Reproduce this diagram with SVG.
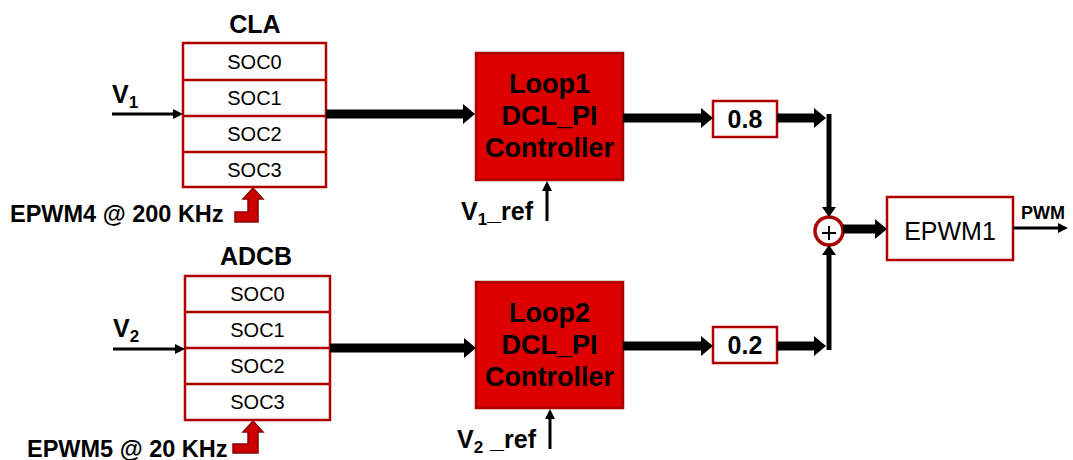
<svg xmlns="http://www.w3.org/2000/svg" width="1073" height="460" viewBox="0 0 1073 460">
<style>
text{font-family:"Liberation Sans",Arial,sans-serif;fill:#000}
.title{font-size:25px;font-weight:bold;text-anchor:middle}
.soc{font-size:20px;text-anchor:middle}
.lbl{font-size:25px;font-weight:bold}
.trg{font-size:23.5px;font-weight:bold}
.sub{font-size:17px}
.ctl{font-size:27px;font-weight:bold;text-anchor:middle}
.gain{font-size:25px;font-weight:bold;text-anchor:middle}
.box{fill:#fff;stroke:#b00000;stroke-width:2.5}
.red{fill:#dd0000;stroke:#a80000;stroke-width:2.5}
.thick{stroke:#000;stroke-width:9;fill:none}
.vert{stroke:#000;stroke-width:5;fill:none}
.thin{stroke:#000;stroke-width:3;fill:none}
.trig{fill:#cc0000;stroke:#8a0000;stroke-width:1.5}
</style>
<defs>
<marker id="hBig" markerUnits="userSpaceOnUse" markerWidth="12" markerHeight="20" refX="0" refY="10" orient="auto" overflow="visible"><path d="M0,0 L12,10 L0,20 z" fill="#000"/></marker>
<marker id="hMid" markerUnits="userSpaceOnUse" markerWidth="10" markerHeight="14" refX="0" refY="7" orient="auto" overflow="visible"><path d="M0,0 L10,7 L0,14 z" fill="#000"/></marker>
<marker id="hSmall" markerUnits="userSpaceOnUse" markerWidth="10" markerHeight="10" refX="0" refY="5" orient="auto" overflow="visible"><path d="M0,0 L10,5 L0,10 z" fill="#000"/></marker>
</defs>

<g id="cla">
<text class="title" x="255" y="33">CLA</text>
<rect class="box" x="183" y="43" width="143" height="144"/>
<line class="box" x1="183" y1="80" x2="326" y2="80"/>
<line class="box" x1="183" y1="116" x2="326" y2="116"/>
<line class="box" x1="183" y1="152" x2="326" y2="152"/>
<text class="soc" x="254.5" y="69">SOC0</text>
<text class="soc" x="254.5" y="105">SOC1</text>
<text class="soc" x="254.5" y="141">SOC2</text>
<text class="soc" x="254.5" y="177">SOC3</text>
</g>

<g id="adcb">
<text class="title" x="256" y="265">ADCB</text>
<rect class="box" x="185" y="276" width="145" height="144"/>
<line class="box" x1="185" y1="312" x2="330" y2="312"/>
<line class="box" x1="185" y1="348" x2="330" y2="348"/>
<line class="box" x1="185" y1="384" x2="330" y2="384"/>
<text class="soc" x="257.5" y="301">SOC0</text>
<text class="soc" x="257.5" y="337">SOC1</text>
<text class="soc" x="257.5" y="373">SOC2</text>
<text class="soc" x="257.5" y="409">SOC3</text>
</g>

<g id="v1"><text class="lbl" x="112" y="103">V<tspan class="sub" dy="5">1</tspan></text></g>
<g id="v2"><text class="lbl" x="113" y="337">V<tspan class="sub" dy="5">2</tspan></text></g>

<g id="epwm4">
<text class="trg" x="10" y="222">EPWM4 @ 200 KHz</text>
<polygon class="trig" points="235,212 248,212 248,199 243,199 253,188 263,199 258,199 258,222 235,222"/>
</g>
<g id="epwm5">
<text class="trg" x="27" y="457">EPWM5 @ 20 KHz</text>
<polygon class="trig" points="233,444 248,444 248,432 243,432 253,421 263,432 258,432 258,453 233,453"/>
</g>

<g id="loop1">
<rect class="red" x="476" y="53" width="147" height="127"/>
<text class="ctl" x="549.5" y="93">Loop1</text>
<text class="ctl" x="549.5" y="125">DCL_PI</text>
<text class="ctl" x="549.5" y="157">Controller</text>
</g>
<g id="loop2">
<rect class="red" x="476" y="282" width="147" height="126"/>
<text class="ctl" x="549.5" y="322">Loop2</text>
<text class="ctl" x="549.5" y="354">DCL_PI</text>
<text class="ctl" x="549.5" y="386">Controller</text>
</g>

<g id="v1ref"><text class="lbl" x="461" y="220">V<tspan class="sub" dy="5">1</tspan><tspan dy="-5">_ref</tspan></text></g>
<g id="v2ref"><text class="lbl" x="457" y="448">V<tspan class="sub" dy="5">2</tspan><tspan dy="-5"> _ref</tspan></text></g>

<g id="gain08">
<rect class="box" x="713" y="101" width="64" height="36"/>
<text class="gain" x="745" y="128">0.8</text>
</g>
<g id="gain02">
<rect class="box" x="713" y="327" width="64" height="36"/>
<text class="gain" x="745" y="354">0.2</text>
</g>

<g id="sum">
<circle cx="829" cy="231" r="14" fill="#fff" stroke="#aa0000" stroke-width="3.5"/>
<line x1="822" y1="233" x2="836" y2="233" stroke="#000" stroke-width="2"/>
<line x1="829" y1="226" x2="829" y2="240" stroke="#000" stroke-width="2"/>
</g>

<g id="epwm1">
<rect class="box" x="887" y="197" width="126" height="63"/>
<text x="950" y="240" font-size="25" text-anchor="middle">EPWM1</text>
<text x="1021" y="219" font-size="18" font-weight="bold">PWM</text>
</g>

<g id="connectors">
<line class="thin" x1="112" y1="114" x2="173" y2="114" marker-end="url(#hSmall)"/>
<line class="thin" x1="113" y1="349" x2="175" y2="349" marker-end="url(#hSmall)"/>
<line class="thick" x1="326" y1="114" x2="463" y2="114" marker-end="url(#hBig)"/>
<line class="thick" x1="330" y1="348" x2="464" y2="348" marker-end="url(#hBig)"/>
<line class="thick" x1="623" y1="118" x2="701" y2="118" marker-end="url(#hBig)"/>
<line class="thick" x1="623" y1="346" x2="701" y2="346" marker-end="url(#hBig)"/>
<line class="thick" x1="777" y1="118" x2="814" y2="118" marker-end="url(#hBig)"/>
<line class="thick" x1="777" y1="346" x2="814" y2="346" marker-end="url(#hBig)"/>
<line class="vert" x1="829" y1="114" x2="829" y2="207" marker-end="url(#hMid)"/>
<line class="vert" x1="829" y1="350" x2="829" y2="255" marker-end="url(#hMid)"/>
<line class="thick" x1="843" y1="229" x2="875" y2="229" marker-end="url(#hBig)"/>
<line class="thin" x1="1013" y1="228" x2="1058" y2="228" marker-end="url(#hSmall)"/>
<line class="thin" x1="547" y1="221" x2="547" y2="191" marker-end="url(#hSmall)"/>
<line class="thin" x1="550" y1="449" x2="550" y2="419" marker-end="url(#hSmall)"/>
</g>
</svg>
